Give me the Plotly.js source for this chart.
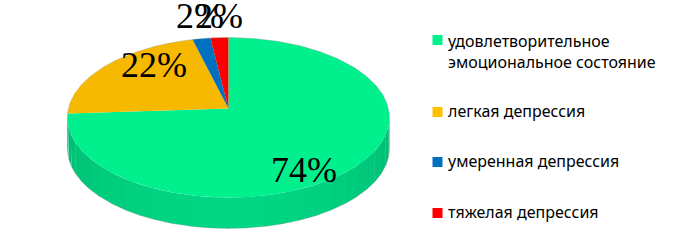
<!DOCTYPE html>
<html>
<head>
<meta charset="utf-8">
<script src="https://cdn.plot.ly/plotly-3.0.1.min.js"></script>
<style>html,body{margin:0;padding:0;background:#fff;}#chart{width:674px;height:252px;}</style>
</head>
<body>
<div id="chart"></div>
<script>
// ---- data ----
const categories = ['удовлетворительное эмоциональное состояние', 'легкая депрессия', 'умеренная депрессия', 'тяжелая депрессия'];
const legendLabels = ['удовлетворительное<br>эмоциональное состояние', 'легкая депрессия', 'умеренная депрессия', 'тяжелая депрессия'];
const values = [74, 22, 2, 2];
const topColors = ['#00F08E', '#F7B900', '#0070C0', '#FF0000'];
const sideColors = ['#00D683', '#DCA400', '#005FA8', '#DC0000'];
const legendColors = ['#00F08E', '#FFC000', '#0070C0', '#FF0000'];

// ---- style / geometry (perspective projection of a tilted disc) ----
const CX = 228.4, CY = 108.5, A = 160, B = 79, K = 0.1125, DEPTH = 31;
function proj(deg, drop) {
  const t = deg * Math.PI / 180, u = Math.sin(t), v = Math.cos(t), w = 1 + K * v;
  return [CX + A * u / w, CY - B * v / w + (drop || 0)];
}
function arc(a, b, drop) {
  const pts = [];
  const n = Math.max(2, Math.ceil(Math.abs(b - a)));
  for (let i = 0; i <= n; i++) pts.push(proj(a + (b - a) * i / n, drop));
  return pts;
}
const total = values.reduce((s, v) => s + v, 0);
const starts = [], ends = [];
let acc = 0;
values.forEach(v => { starts.push(acc / total * 360); acc += v; ends.push(acc / total * 360); });

const visL = Math.acos(-K) * 180 / Math.PI;  // right silhouette angle
const visR = 360 - visL;                      // left silhouette angle

const traces = [];
// side walls (split into bands for a soft shading)
values.forEach((v, i) => {
  const a0 = Math.max(starts[i], visL), b0 = Math.min(ends[i], visR);
  if (b0 <= a0) return;
  const bands = Math.max(1, Math.ceil((b0 - a0) / 6));
  for (let k = 0; k < bands; k++) {
    const a = a0 + (b0 - a0) * k / bands, b = a0 + (b0 - a0) * (k + 1) / bands + 0.3;
    const mid = (a + b) / 2;
    const shade = 0.86 + 0.14 * Math.sin((mid - visL) / (visR - visL) * Math.PI);
    const base = sideColors[i];
    const r = parseInt(base.substr(1, 2), 16), g = parseInt(base.substr(3, 2), 16), bl = parseInt(base.substr(5, 2), 16);
    const col = 'rgb(' + Math.round(r * shade) + ',' + Math.round(Math.min(255, g * shade)) + ',' + Math.round(bl * shade) + ')';
    const pts = arc(a, Math.min(b, b0), 0).concat(arc(Math.min(b, b0), a, DEPTH));
    traces.push({
      type: 'scatter', mode: 'lines', x: pts.map(p => p[0]), y: pts.map(p => p[1]),
      fill: 'toself', fillcolor: col, line: {width: 0, color: col},
      hoverinfo: 'skip', showlegend: false
    });
  }
});
// top faces
values.forEach((v, i) => {
  const pts = [[CX, CY]].concat(arc(starts[i], ends[i], 0));
  pts.push([CX, CY]);
  traces.push({
    type: 'scatter', mode: 'lines', x: pts.map(p => p[0]), y: pts.map(p => p[1]),
    fill: 'toself', fillcolor: topColors[i], line: {width: 0, color: topColors[i]},
    hoverinfo: 'skip', showlegend: false
  });
});
// faint rim outline
(function () {
  const back = arc(visR, 360 + visL, 0);
  const bot = arc(visL, visR, DEPTH);
  const pts = back.concat(bot);
  pts.push(back[0]);
  traces.push({
    type: 'scatter', mode: 'lines', x: pts.map(p => p[0]), y: pts.map(p => p[1]),
    line: {width: 0.6, color: 'rgba(140,140,140,0.5)'}, hoverinfo: 'skip', showlegend: false
  });
})();

// legend markers
const legendY = [40, 112, 162, 213];
traces.push({
  type: 'scatter', mode: 'markers', x: legendY.map(() => 437.5), y: legendY,
  marker: {symbol: 'square', size: 10, color: legendColors, line: {width: 0}},
  hoverinfo: 'skip', showlegend: false
});

const labelPos = [[304, 169.5], [154, 64.5], [200, 16], [219, 16]];
const annotations = [];
values.forEach((v, i) => {
  annotations.push({
    x: labelPos[i][0], y: labelPos[i][1], xref: 'x', yref: 'y',
    text: Math.round(v / total * 100) + '%', showarrow: false,
    xanchor: 'center', yanchor: 'middle',
    font: {family: '"Liberation Serif", "Times New Roman", serif', size: 36, color: '#000'}
  });
});
const legendTextY = [51, 111, 161, 212];
legendLabels.forEach((t, i) => {
  annotations.push({
    x: 446, y: legendTextY[i], xref: 'x', yref: 'y', text: t, showarrow: false,
    xanchor: 'left', yanchor: 'middle', align: 'left',
    font: {family: '"Noto Sans", "Open Sans", sans-serif', size: 16, color: '#000'}
  });
});

const layout = {
  width: 674, height: 252,
  margin: {l: 0, r: 0, t: 0, b: 0, pad: 0},
  paper_bgcolor: '#fff', plot_bgcolor: '#fff',
  showlegend: false, hovermode: false,
  xaxis: {range: [0, 674], visible: false, fixedrange: true},
  yaxis: {range: [252, 0], visible: false, fixedrange: true},
  annotations: annotations
};
Plotly.newPlot('chart', traces, layout, {staticPlot: true, displayModeBar: false});
</script>
</body>
</html>
